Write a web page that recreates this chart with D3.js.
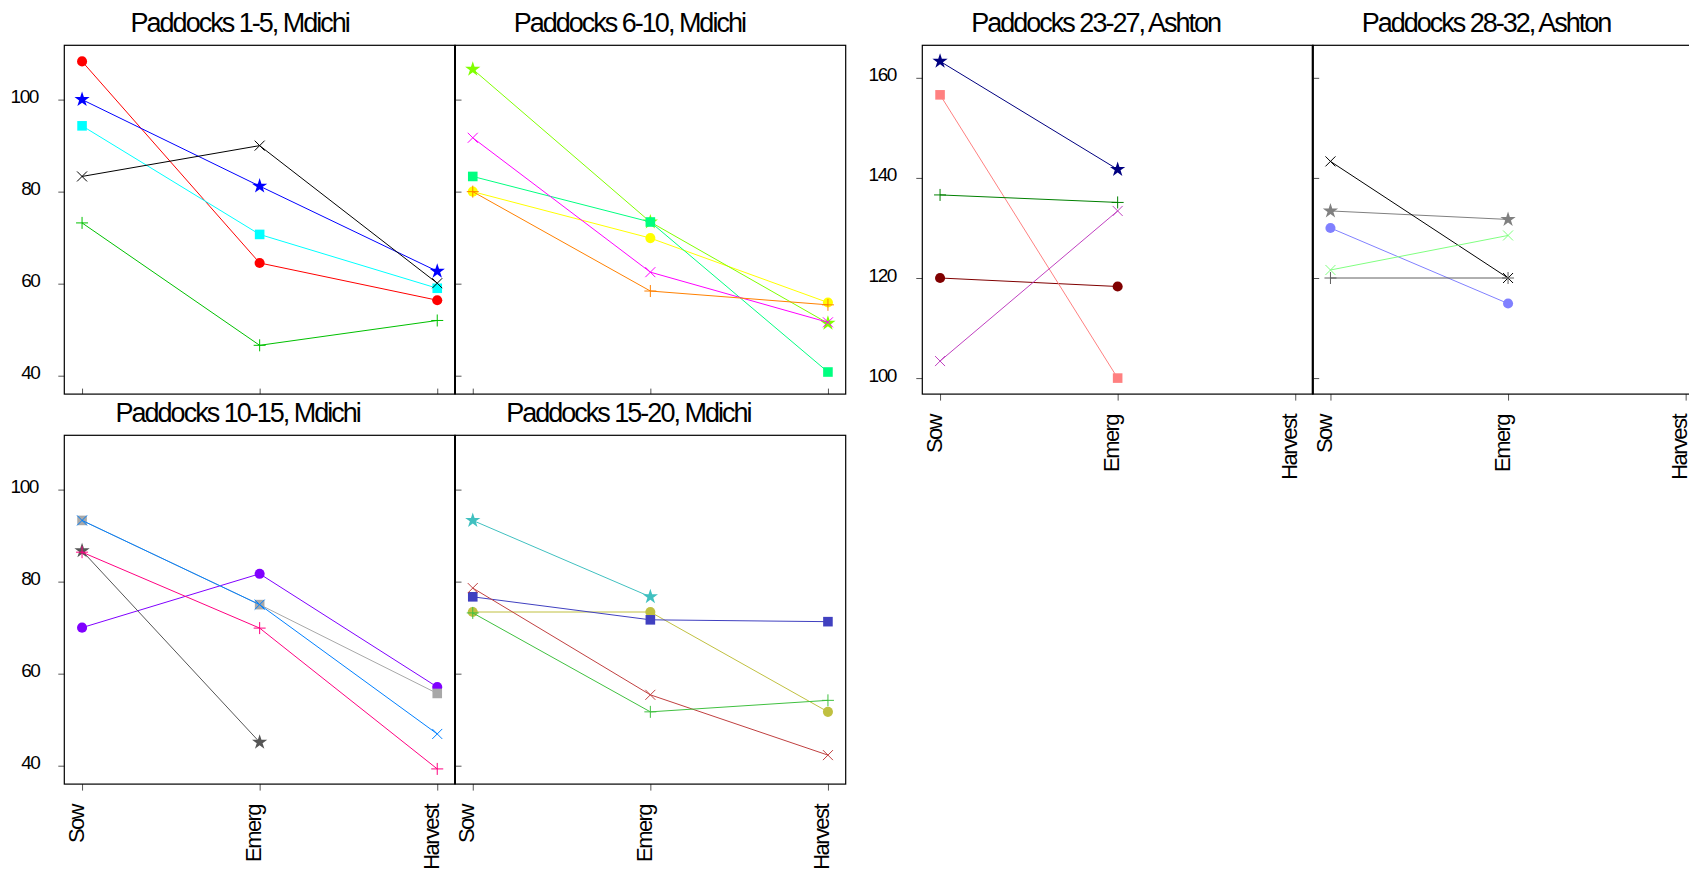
<!DOCTYPE html>
<html>
<head>
<meta charset="utf-8">
<script src="https://cdn.jsdelivr.net/npm/d3@7"></script>
<style>
html, body { margin: 0; padding: 0; background: #fff; }
svg { display: block; font-family: Arial, "Liberation Sans", sans-serif; }
</style>
</head>
<body>
<svg id="chart" width="1689" height="877"></svg>
<script>
// x categories and axis ticks
const stages = ["Sow", "Emerg", "Harvest"];
const mdichiTicks = [40, 60, 80, 100];
const ashtonTicks = [100, 120, 140, 160];
const mdichiRange = [36, 111.8];
const ashtonRange = [96.8, 166.5];

// one row per paddock: Sow, Emerg, Harvest (null = not measured)
const paddocks1to5 = [
    [108.3, 64.5, 56.4],
    [100.0, 81.2, 62.7],
    [94.3, 70.7, 59.0],
    [83.3, 90.0, 60.1],
    [73.2, 46.6, 52.0]
];
const paddocks6to10 = [
    [80.0, 69.9, 55.9],
    [106.6, 73.4, 51.4],
    [83.3, 73.4, 40.8],
    [91.7, 62.5, 51.6],
    [80.0, 58.4, 55.4]
];
const paddocks10to15 = [
    [70.0, 81.7, 57.1],
    [86.7, 45.1, null],
    [93.3, 75.0, 55.7],
    [93.3, 75.0, 46.9],
    [86.4, 69.9, 39.3]
];
const paddocks15to20 = [
    [73.4, 73.4, 51.7],
    [93.3, 76.7, null],
    [76.7, 71.7, 71.3],
    [78.6, 55.4, 42.3],
    [73.2, 51.7, 54.2]
];
const paddocks23to27 = [
    [120.0, 118.3, null],
    [163.3, 141.7, null],
    [156.6, 100.0, null],
    [103.4, 133.4, null],
    [136.6, 135.1, null]
];
const paddocks28to32 = [
    [130.0, 114.9, null],
    [133.4, 131.7, null],
    [143.3, 120.0, null],
    [121.6, 128.5, null],
    [120.0, 120.0, null]
];

// styles
const shapesStd = ["circle", "star", "square", "times", "plus"];
const shapes28 = ["circle", "star", "times", "times", "plus"];
const colors1 = ["#ff0000", "#0000ff", "#00ffff", "#000000", "#00c000"];
const colors6 = ["#ffff00", "#80ff00", "#00ff80", "#ff00ff", "#ff8000"];
const colors10 = ["#8000ff", "#555555", "#a8a8a8", "#0080ff", "#ff0080"];
const colors15 = ["#c0c040", "#40c0c0", "#4040c0", "#c04040", "#40c040"];
const colors23 = ["#800000", "#000080", "#ff8080", "#c040c0", "#008000"];
const colors28 = ["#8080ff", "#808080", "#000000", "#80ff80", "#606060"];

const panels = [
    {title: "Paddocks 1-5, Mdichi", col: 0, row: 0, data: paddocks1to5, colors: colors1, shapes: shapesStd, range: mdichiRange, ticks: mdichiTicks},
    {title: "Paddocks 6-10, Mdichi", col: 1, row: 0, data: paddocks6to10, colors: colors6, shapes: shapesStd, range: mdichiRange, ticks: mdichiTicks},
    {title: "Paddocks 10-15, Mdichi", col: 0, row: 1, data: paddocks10to15, colors: colors10, shapes: shapesStd, range: mdichiRange, ticks: mdichiTicks},
    {title: "Paddocks 15-20, Mdichi", col: 1, row: 1, data: paddocks15to20, colors: colors15, shapes: shapesStd, range: mdichiRange, ticks: mdichiTicks},
    {title: "Paddocks 23-27, Ashton", col: 2, row: 0, data: paddocks23to27, colors: colors23, shapes: shapesStd, range: ashtonRange, ticks: ashtonTicks, xLabels: true},
    {title: "Paddocks 28-32, Ashton", col: 3, row: 0, data: paddocks28to32, colors: colors28, shapes: shapes28, range: ashtonRange, ticks: ashtonTicks, xLabels: true}
];

const colLeft = [64.3, 455, 922.3, 1312.7];
const rowTop = [45.3, 435.3];
const pw = 390.7, ph = 348.8;

const symbolTypes = {
    circle: {type: d3.symbolCircle, size: 80, fill: true},
    square: {type: d3.symbolSquare, size: 92, fill: true},
    star: {type: d3.symbolStar, size: 72, fill: true},
    times: {type: {draw(ctx, size) {
        const r = Math.sqrt(size) / 2;
        ctx.moveTo(-r, -r); ctx.lineTo(r, r);
        ctx.moveTo(r, -r); ctx.lineTo(-r, r);
    }}, size: 100, fill: false},
    plus: {type: {draw(ctx, size) {
        const r = Math.sqrt(size) / 2;
        ctx.moveTo(-r, 0); ctx.lineTo(r, 0);
        ctx.moveTo(0, -r); ctx.lineTo(0, r);
    }}, size: 144, fill: false}
};

const svg = d3.select("#chart");

// text drawn tight: positioned by its natural width, then squeezed
function tighten(sel, spacing, anchorX, mode) {
    sel.each(function() {
        const t = d3.select(this);
        t.style("text-anchor", "start").style("letter-spacing", "0px");
        const w = this.getComputedTextLength();
        const x = mode === "end" ? anchorX - w : anchorX - w / 2;
        t.attr("x", x).style("letter-spacing", spacing + "px");
    });
}

panels.forEach(p => {
    const left = colLeft[p.col], top = rowTop[p.row];
    const right = left + pw, bottom = top + ph;
    const isLeft = p.col === 0 || p.col === 2;

    const x = d3.scalePoint().domain(stages).range([left, right]).padding(0.1);
    const y = d3.scaleLinear().domain(p.range).range([bottom, top]);

    const g = svg.append("g");

    // title
    g.append("text")
        .attr("y", top - 13)
        .style("font-size", "27px")
        .style("fill", "#000")
        .text(p.title)
        .call(tighten, -2, (left + right) / 2, "middle");

    // y ticks
    if (isLeft) {
        const ay = g.append("g")
            .attr("transform", `translate(${left},0)`)
            .call(d3.axisLeft(y).tickValues(p.ticks).tickSize(6).tickFormat(d3.format("d")));
        ay.select(".domain").remove();
        ay.selectAll(".tick line").attr("stroke", "#555");
        ay.selectAll(".tick text")
            .attr("y", 3).attr("dy", 0)
            .style("font-size", "19px").style("fill", "#000")
            .call(tighten, -1.5, -22, "end");
    } else {
        const ay = g.append("g")
            .attr("transform", `translate(${left},0)`)
            .call(d3.axisRight(y).tickValues(p.ticks).tickSize(6.5).tickFormat(""));
        ay.select(".domain").remove();
        ay.selectAll(".tick line").attr("stroke", "#555");
    }

    // x ticks
    if (p.row === 0 && !p.xLabels) {
        const ax = g.append("g")
            .attr("transform", `translate(0,${bottom})`)
            .call(d3.axisTop(x).tickSize(5.5).tickFormat(""));
        ax.select(".domain").remove();
        ax.selectAll(".tick line").attr("stroke", "#555");
    } else {
        const ax = g.append("g")
            .attr("transform", `translate(0,${bottom})`)
            .call(d3.axisBottom(x).tickSize(6.5));
        ax.select(".domain").remove();
        ax.selectAll(".tick line").attr("stroke", "#555");
        ax.selectAll(".tick text")
            .attr("transform", "rotate(-90)")
            .attr("x", -21).attr("y", 1).attr("dy", 0)
            .style("text-anchor", "end")
            .style("font-size", "22px").style("fill", "#000")
            .style("letter-spacing", "-1.6px");
    }

    // frame
    g.append("rect")
        .attr("x", left).attr("y", top)
        .attr("width", pw).attr("height", ph)
        .attr("fill", "none").attr("stroke", "#000").attr("stroke-width", 1.2);

    // series
    const line = d3.line()
        .defined(d => d.v !== null)
        .x(d => x(d.stage))
        .y(d => y(d.v));

    p.data.forEach((vals, i) => {
        const pts = vals.map((v, j) => ({stage: stages[j], v: v}));
        const col = p.colors[i];
        g.append("path")
            .datum(pts)
            .attr("d", line)
            .attr("fill", "none")
            .attr("stroke", col)
            .attr("stroke-width", 1);
        const sym = symbolTypes[p.shapes[i]];
        g.selectAll(null)
            .data(pts.filter(d => d.v !== null))
            .enter()
            .append("path")
            .attr("transform", d => `translate(${x(d.stage)},${y(d.v)})`)
            .attr("d", d3.symbol().type(sym.type).size(sym.size))
            .attr("fill", sym.fill ? col : "none")
            .attr("stroke", sym.fill ? "none" : col)
            .attr("stroke-width", 1);
    });
});

// heavier shared borders between neighbouring panels
[[455, rowTop[0]], [455, rowTop[1]], [1312.7, rowTop[0]]].forEach(([bx, by]) => {
    svg.append("line")
        .attr("x1", bx).attr("x2", bx)
        .attr("y1", by).attr("y2", by + ph)
        .attr("stroke", "#000").attr("stroke-width", 2);
});
</script>
</body>
</html>
